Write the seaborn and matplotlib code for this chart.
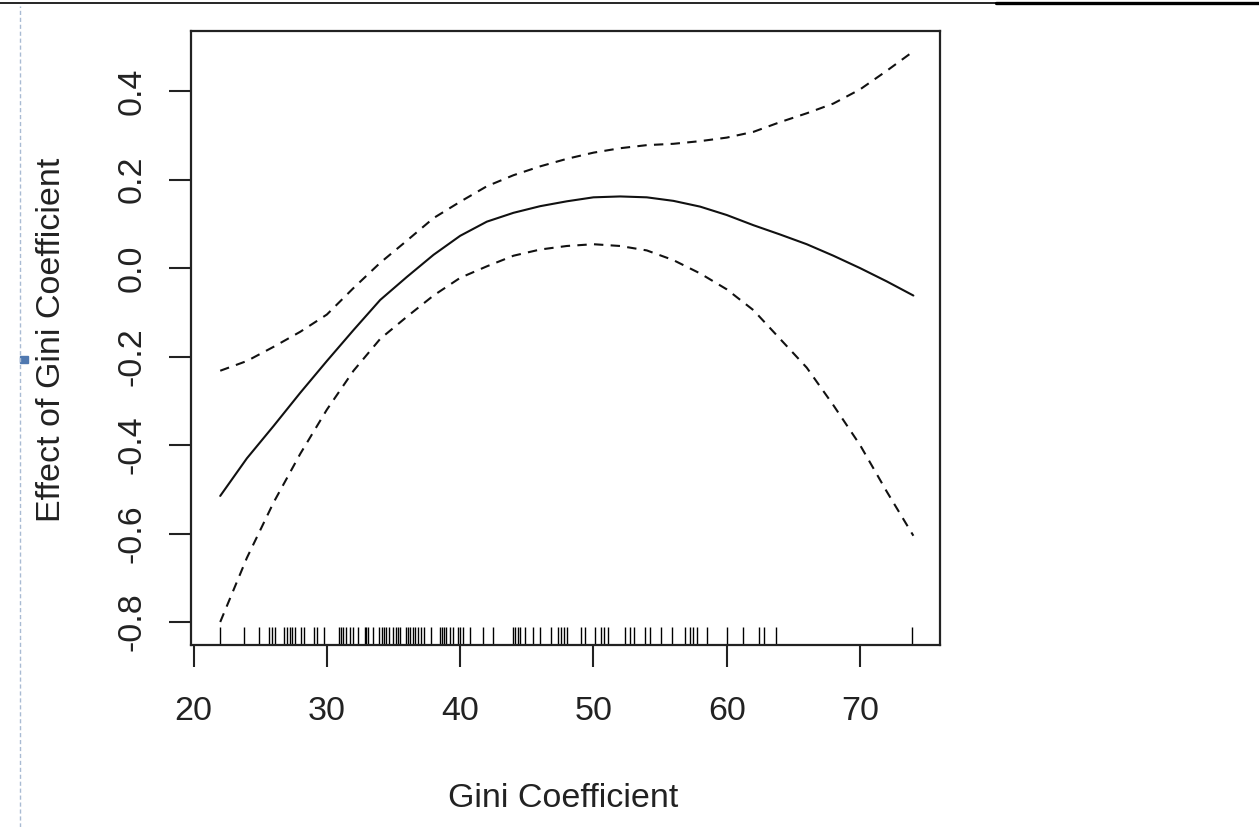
import numpy as np
import pandas as pd
import matplotlib.pyplot as plt
from matplotlib.lines import Line2D
from matplotlib.patches import Rectangle
import seaborn as sns

# smooth term estimate (R gam plot style)
gini = [22, 24, 26, 28, 30, 32, 34, 36, 38, 40, 42, 44, 46, 48,
        50, 52, 54, 56, 58, 60, 62, 64, 66, 68, 70, 72, 74]
effect = [-0.515, -0.43, -0.357, -0.282, -0.21, -0.14, -0.072, -0.02, 0.03, 0.073,
          0.105, 0.125, 0.14, 0.151, 0.16, 0.162, 0.16, 0.152, 0.139, 0.12,
          0.097, 0.076, 0.054, 0.028, 0.0, -0.03, -0.062]
upper = [-0.232, -0.21, -0.178, -0.144, -0.105, -0.045, 0.012, 0.062, 0.113, 0.15,
         0.185, 0.21, 0.23, 0.247, 0.261, 0.271, 0.278, 0.281, 0.287, 0.295,
         0.308, 0.33, 0.35, 0.372, 0.404, 0.446, 0.49]
lower = [-0.8, -0.655, -0.53, -0.42, -0.32, -0.232, -0.16, -0.11, -0.062, -0.022,
         0.004, 0.028, 0.042, 0.05, 0.054, 0.05, 0.04, 0.018, -0.012, -0.048,
         -0.095, -0.16, -0.225, -0.31, -0.4, -0.505, -0.605]

# observed gini values (rug)
rug_x = [21.95, 23.78, 24.9, 25.66, 25.9, 26.08, 26.78, 27.0, 27.2, 27.4, 27.58,
         28.08, 28.26, 29.0, 29.26, 29.76, 30.89, 31.04, 31.2, 31.46, 31.7, 31.96,
         32.34, 32.84, 32.96, 33.09, 33.46, 33.9, 34.1, 34.26, 34.46, 34.66, 34.96,
         35.17, 35.34, 35.47, 35.97, 36.12, 36.27, 36.46, 36.64, 36.84, 37.09, 37.27,
         37.84, 38.47, 38.62, 38.77, 38.97, 39.22, 39.47, 39.84, 40.02, 40.22, 40.72,
         41.72, 42.5, 43.97, 44.15, 44.32, 44.5, 44.85, 45.43, 45.98, 46.85, 47.35,
         47.55, 47.78, 48.03, 49.03, 49.35, 50.1, 50.6, 50.78, 51.1, 52.36, 52.73,
         53.03, 53.86, 54.23, 55.03, 55.86, 56.86, 57.24, 57.49, 57.74, 58.54, 59.99,
         61.19, 62.44, 62.79, 63.69, 73.88]

x_ticks = [20, 30, 40, 50, 60, 70]
y_ticks = [-0.8, -0.6, -0.4, -0.2, 0.0, 0.2, 0.4]

sns.set_style("white")
plt.rcParams['font.family'] = ['Liberation Sans', 'DejaVu Sans']

W, H = 1259, 827
fig = plt.figure(figsize=(W / 100, H / 100), dpi=100)
ax = fig.add_axes([190.5 / W, 1 - 645 / H, 749 / W, 614 / H])

dash = (0, (4.5, 3.5))
sns.lineplot(x=gini, y=effect, color='#111111', lw=1.5, ax=ax)
sns.lineplot(x=gini, y=upper, color='#111111', lw=1.5, linestyle=dash, ax=ax)
sns.lineplot(x=gini, y=lower, color='#111111', lw=1.5, linestyle=dash, ax=ax)
sns.rugplot(x=rug_x, height=0.03, color='black', lw=1.6, ax=ax)

ax.set_xlim(19.77, 75.96)
ax.set_ylim(-0.852, 0.536)
ax.set_xticks(x_ticks)
ax.set_yticks(y_ticks)
ax.set_xticklabels([str(t) for t in x_ticks])
ax.set_yticklabels([f"{t:.1f}" for t in y_ticks])
ax.set_xlabel('')
ax.set_ylabel('')

for s in ax.spines.values():
    s.set_visible(True)
    s.set_color('#222222')
    s.set_linewidth(1.6)
ax.tick_params(axis='both', direction='out', length=16, width=1.5, color='#222222',
               labelsize=24.5, labelcolor='#222222')
ax.tick_params(axis='x', pad=21)
ax.tick_params(axis='y', pad=15)
ax.tick_params(bottom=True, left=True)
plt.setp(ax.get_yticklabels(), rotation=90, va='center')

fig.text(563 / W, 1 - 807 / H, 'Gini Coefficient', fontsize=24.5, color='#222222',
         ha='center', va='baseline')
fig.text(60 / W, 1 - 340 / H, 'Effect of Gini Coefficient', fontsize=24.5, color='#222222',
         ha='center', va='baseline', rotation=90, rotation_mode='anchor')

# page decorations around the pasted figure
fig.add_artist(Line2D([0, 996 / W], [1 - 2.5 / H] * 2, color='black', lw=1.2,
                      transform=fig.transFigure))
fig.add_artist(Line2D([996 / W, 1], [1 - 3 / H] * 2, color='black', lw=2.4,
                      transform=fig.transFigure))
fig.add_artist(Line2D([19.5 / W] * 2, [0, 1 - 6 / H], color='#a9bbd3', lw=1.0,
                      linestyle=(0, (3, 2)), transform=fig.transFigure))
fig.add_artist(Rectangle((20 / W, 1 - 363 / H), 8 / W, 7 / H, color='#4f78b0',
                         transform=fig.transFigure))

fig.savefig('out.png', dpi=100)
